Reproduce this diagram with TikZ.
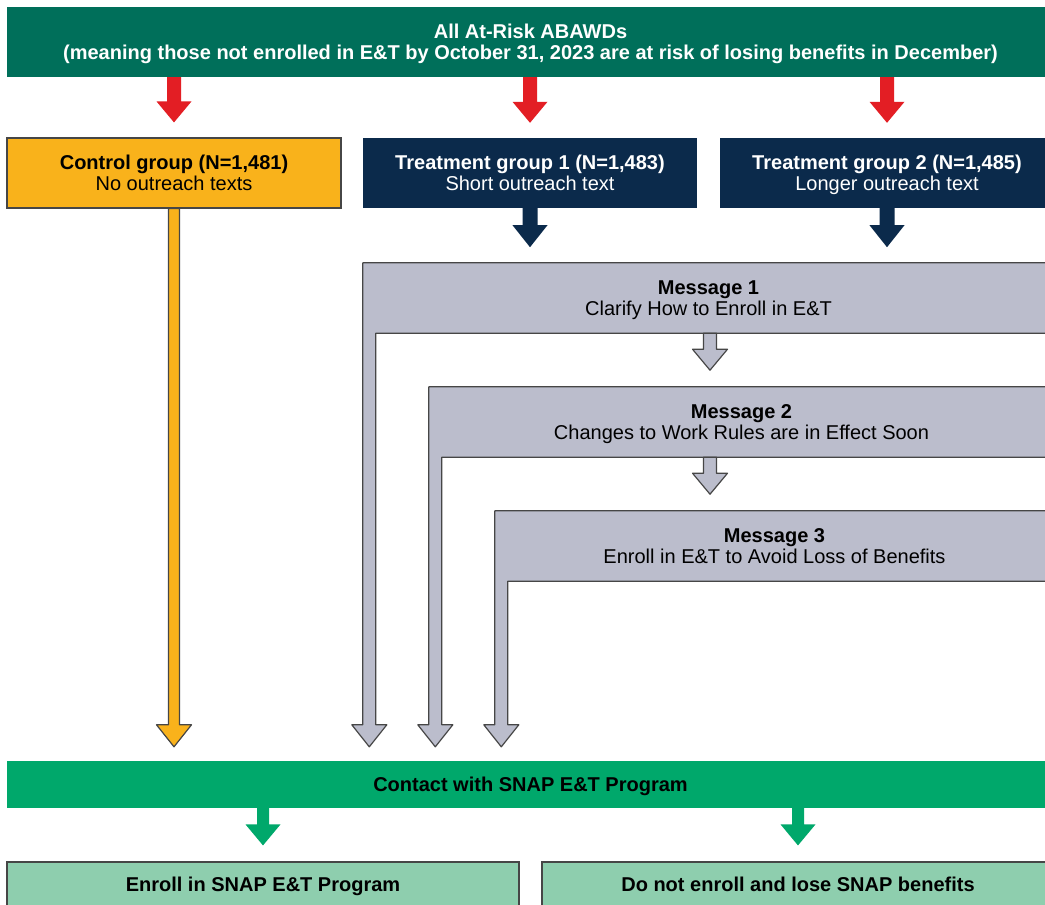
\documentclass[tikz,border=0pt]{standalone}
\usepackage{fontspec}
\setmainfont{Liberation Sans}
\usetikzlibrary{calc}
\definecolor{hdrteal}{RGB}{0,111,90}
\definecolor{arrred}{RGB}{227,30,36}
\definecolor{ctrlyel}{RGB}{249,178,27}
\definecolor{navyblue}{RGB}{11,42,75}
\definecolor{msggray}{RGB}{187,189,204}
\definecolor{contgreen}{RGB}{0,168,107}
\definecolor{lightgreen}{RGB}{142,206,174}
\definecolor{edgegray}{RGB}{70,70,70}
% struts: first line height, last line depth, single line both
\newcommand\tsa{\rule{0pt}{19.5pt}}
\newcommand\tsb{\rule[-5.5pt]{0pt}{5.5pt}}
\newcommand\tsc{\rule[-5.5pt]{0pt}{25pt}}
\tikzset{
  txt/.style={align=center,font=\fontsize{20}{21.5}\selectfont,inner sep=0pt},
  hdrbox/.style={txt,fill=hdrteal,text=white,font=\fontsize{20}{21.5}\selectfont\bfseries,minimum width=1047,minimum height=70},
  ctrlbox/.style={txt,fill=ctrlyel,draw=edgegray,line width=1.2pt,minimum width=334,minimum height=70},
  navybox/.style={txt,fill=navyblue,text=white,minimum width=334,minimum height=70},
  msgtext/.style={txt,minimum height=70},
  contbox/.style={txt,fill=contgreen,font=\fontsize{20}{21.5}\selectfont\bfseries,minimum width=1047,minimum height=47},
  outbox/.style={txt,fill=lightgreen,draw=edgegray,line width=1.2pt,font=\fontsize{20}{21.5}\selectfont\bfseries,minimum width=512,minimum height=44},
  redarrow/.style={fill=arrred},
  navyarrow/.style={fill=navyblue},
  yelarrow/.style={fill=ctrlyel,draw=edgegray,line width=1.2pt,line join=round},
  grayarrow/.style={fill=msggray,draw=edgegray,line width=1.2pt,line join=round},
  greenarrow/.style={fill=contgreen},
}
% #1 style, #2 start, #3 tip, #4 shaft half width, #5 head half width, #6 head length
\newcommand\blockarr[6]{%
  \path[#1] let \p1=(#2), \p2=(#3) in
    (\x1-#4pt,\y1) -- (\x1+#4pt,\y1) -- (\x1+#4pt,\y2+#6pt) -- (\x1+#5pt,\y2+#6pt)
    -- (\x1,\y2) -- (\x1-#5pt,\y2+#6pt) -- (\x1-#4pt,\y2+#6pt) -- cycle;}
% bent message shape round text node #1, leg down to just above contact bar
\newcommand\bentshape[1]{%
  \path[grayarrow] let \p1=(#1.north west), \p2=(#1.south east), \p3=(contact.north) in
    (\x1,\y1) -- (\x2+12pt,\y1) -- (\x2+12pt,\y2) -- (\x1+13pt,\y2) -- (\x1+13pt,\y3+36pt)
    -- (\x1+24pt,\y3+36pt) -- (\x1+6.5pt,\y3+14pt) -- (\x1-11pt,\y3+36pt) -- (\x1,\y3+36pt) -- cycle;}
\begin{document}
\begin{tikzpicture}[x=1pt,y=-1pt]
\useasboundingbox (0,0) rectangle (1045,905);
\clip (0,0) rectangle (1045,905);
\fill[white] (0,0) rectangle (1045,905);

% nodes
\node[hdrbox] (hdr) at (530.5,42) {\tsa All At-Risk ABAWDs\\(meaning those not enrolled in E\&T by October 31, 2023 are at risk of losing benefits in December)\tsb};
\node[ctrlbox] (ctrl) at (174,173) {\tsa\textbf{Control group (N=1,481)}\\No outreach texts\tsb};
\node[navybox] (tg1) at (530,173) {\tsa\textbf{Treatment group 1 (N=1,483)}\\Short outreach text\tsb};
\node[navybox] (tg2) at (887,173) {\tsa\textbf{Treatment group 2 (N=1,485)}\\Longer outreach text\tsb};
\node[contbox] (contact) at (530.5,784.5) {\tsc Contact with SNAP E\&T Program};
\node[outbox] (enroll) at (263,884) {\tsc Enroll in SNAP E\&T Program};
\node[outbox] (noenroll) at (798,884) {\tsc Do not enroll and lose SNAP benefits};

\node[msgtext,minimum width=691] (m1) at (708.5,298) {};
\node[msgtext,minimum width=625] (m2) at (741.5,422) {};
\node[msgtext,minimum width=559] (m3) at (774.5,546) {};

% message shapes
\bentshape{m1}
\bentshape{m2}
\bentshape{m3}
\node[txt] at (m1) {\tsa\textbf{Message 1}\\Clarify How to Enroll in E\&T\tsb};
\node[txt] at (m2) {\tsa\textbf{Message 2}\\Changes to Work Rules are in Effect Soon\tsb};
\node[txt] at (m3) {\tsa\textbf{Message 3}\\Enroll in E\&T to Avoid Loss of Benefits\tsb};

% red arrows
\blockarr{redarrow}{hdr.south -| ctrl.north}{$(ctrl.north)+(0,-15)$}{7}{17.5}{21}
\blockarr{redarrow}{hdr.south -| tg1.north}{$(tg1.north)+(0,-15)$}{7}{17.5}{21}
\blockarr{redarrow}{hdr.south -| tg2.north}{$(tg2.north)+(0,-15)$}{7}{17.5}{21}

% navy arrows
\blockarr{navyarrow}{tg1.south}{$(tg1.south)+(0,39)$}{7.5}{17.5}{22}
\blockarr{navyarrow}{tg2.south}{$(tg2.south)+(0,39)$}{7.5}{17.5}{22}

% control arrow
\blockarr{yelarrow}{ctrl.south}{$(ctrl.south |- contact.north)+(0,-14)$}{5.5}{17.5}{22}

% arrows between messages
\blockarr{grayarrow}{$(m1.south)+(1.5,0)$}{$(m1.south)+(1.5,37)$}{6.5}{17.5}{21}
\blockarr{grayarrow}{$(m2.south -| m1.south)+(1.5,0)$}{$(m2.south -| m1.south)+(1.5,37)$}{6.5}{17.5}{21}

% green arrows
\blockarr{greenarrow}{contact.south -| enroll.north}{$(enroll.north)+(0,-16)$}{6}{17.5}{21}
\blockarr{greenarrow}{contact.south -| noenroll.north}{$(noenroll.north)+(0,-16)$}{6}{17.5}{21}
\end{tikzpicture}
\end{document}
